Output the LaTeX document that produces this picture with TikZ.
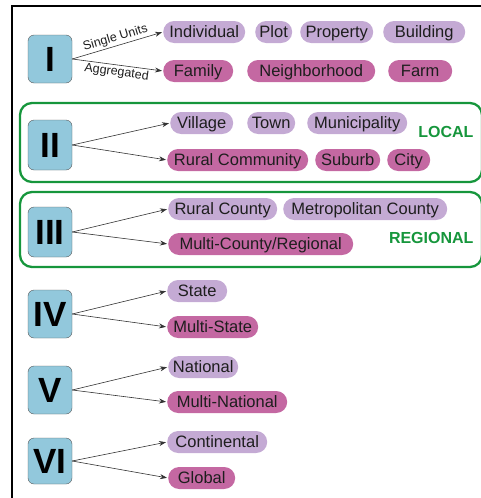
\documentclass[tikz,border=0pt]{standalone}
\usepackage{fontspec}
\setmainfont{Liberation Sans}
\usetikzlibrary{arrows.meta}
\definecolor{numblue}{RGB}{146,200,220}
\definecolor{lav}{RGB}{196,170,212}
\definecolor{mag}{RGB}{196,104,162}
\definecolor{grn}{RGB}{22,150,60}
\definecolor{txt}{RGB}{30,30,30}
\begin{document}
\begin{tikzpicture}[x=1pt,y=-1pt,
  lvl/.style={draw=black!65, fill=numblue, rounded corners=6pt, minimum width=44pt, minimum height=48pt, inner sep=0pt, font=\bfseries\fontsize{35}{35}\selectfont},
  pill/.style={rounded corners=11pt, minimum height=22pt, inner sep=0pt, anchor=west, text=txt, text height=12pt, text depth=1pt, font=\fontsize{16.5}{16.5}\selectfont},
  lt/.style={pill, fill=lav},
  dk/.style={pill, fill=mag},
  arr/.style={-{Stealth[length=7pt,width=5pt]}, draw=black!80, line width=0.6pt, shorten >=1pt},
  grp/.style={draw=grn, line width=2.3pt, rounded corners=12pt},
  glab/.style={text=grn, font=\bfseries\fontsize{16}{16}\selectfont, anchor=east},
  lbl/.style={font=\fontsize{12.5}{12.5}\selectfont, text=txt, inner sep=1.5pt}
]
\useasboundingbox (0,0) rectangle (481,498);
% frame
\draw[line width=1.2pt] (12,498) -- (12,6) -- (481,6);
% green groups
\draw[grp] (20,103) rectangle (482,182);
\draw[grp] (20,192) rectangle (482,267);
\node[glab] at (477,132) {LOCAL};
\node[glab] at (477,238) {REGIONAL};

% level I
\node[lvl] (I) at (50,59) {I};
\node[lt, minimum width=82pt] (indiv) at (163,32) {Individual};
\node[lt, minimum width=37pt] (plot) at (255,32) {Plot};
\node[lt, minimum width=73pt] (prop) at (300,32) {Property};
\node[lt, minimum width=82pt] (bldg) at (383,32) {Building};
\node[dk, minimum width=70pt] (fam) at (163,71) {Family};
\node[dk, minimum width=128pt] (nbh) at (247,71) {Neighborhood};
\node[dk, minimum width=64pt] (farm) at (388,71) {Farm};
\draw[arr] (I.east) -- node[lbl, above, sloped] {Single Units} (indiv.west);
\draw[arr] (I.east) -- node[lbl, below, sloped] {Aggregated} (fam.west);

% level II
\node[lvl, minimum height=50pt] (II) at (50,145) {II};
\node[lt, minimum width=63pt] (vil) at (170,123) {Village};
\node[lt, minimum width=48pt] (town) at (247,123) {Town};
\node[lt, minimum width=100pt] (muni) at (307,123) {Municipality};
\node[dk, minimum width=141pt] (rural) at (167,160) {Rural Community};
\node[dk, minimum width=65pt] (sub) at (315,160) {Suburb};
\node[dk, minimum width=43pt] (city) at (387,160) {City};
\draw[arr] (II.east) -- (vil.west);
\draw[arr] (II.east) -- (rural.west);

% level III
\node[lvl, minimum height=50pt] (III) at (50,232) {III};
\node[lt, minimum width=109pt] (rc) at (168,209) {Rural County};
\node[lt, minimum width=164pt] (mc) at (283,209) {Metropolitan County};
\node[dk, minimum width=185pt] (mcr) at (168,244) {Multi-County/Regional};
\draw[arr] (III.east) -- (rc.west);
\draw[arr] (III.east) -- (mcr.west);

% level IV
\node[lvl] (IV) at (50,314) {IV};
\node[lt, minimum width=60pt] (state) at (167,291) {State};
\node[dk, minimum width=91pt] (ms) at (167,327) {Multi-State};
\draw[arr] (IV.east) -- (state.west);
\draw[arr] (IV.east) -- (ms.west);

% level V
\node[lvl] (V) at (50,390) {V};
\node[lt, minimum width=70pt] (nat) at (168,367) {National};
\node[dk, minimum width=120pt] (mn) at (167,402) {Multi-National};
\draw[arr] (V.east) -- (nat.west);
\draw[arr] (V.east) -- (mn.west);

% level VI
\node[lvl, minimum height=46pt] (VI) at (50,461) {VI};
\node[lt, minimum width=100pt] (cont) at (167,442) {Continental};
\node[dk, minimum width=67pt] (glob) at (168,478) {Global};
\draw[arr] (VI.east) -- (cont.west);
\draw[arr] (VI.east) -- (glob.west);
\end{tikzpicture}
\end{document}
